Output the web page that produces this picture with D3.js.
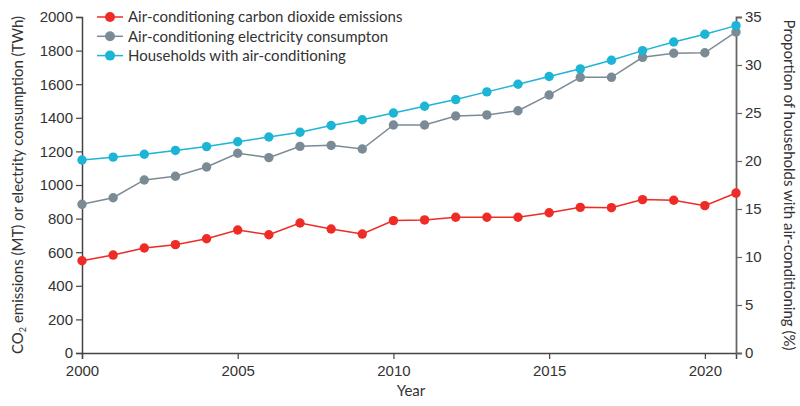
<!DOCTYPE html>
<html>
<head>
<meta charset="utf-8">
<script src="https://cdn.jsdelivr.net/npm/d3@7"></script>
<style>
  body { margin: 0; background: #fff; }
  svg { display: block; font-family: "Lato", "Open Sans", sans-serif; }
</style>
</head>
<body>
<svg id="chart" width="800" height="406"></svg>
<script>
const years = [2000,2001,2002,2003,2004,2005,2006,2007,2008,2009,2010,2011,2012,2013,2014,2015,2016,2017,2018,2019,2020,2021];
const co2Emissions = [549,583,625,645,680,732,704,774,738,708,788,792,808,808,808,835,867,865,913,909,877,952];
const electricity = [885,924,1030,1052,1107,1189,1163,1230,1236,1214,1357,1357,1411,1417,1442,1536,1641,1641,1760,1784,1787,1911];
const households = [20.1,20.4,20.7,21.1,21.5,22.0,22.5,23.0,23.7,24.3,25.0,25.7,26.4,27.2,28.0,28.8,29.6,30.5,31.5,32.4,33.2,34.1];
const xTicks = [2000,2005,2010,2015,2020];
const leftTicks = [0,200,400,600,800,1000,1200,1400,1600,1800,2000];
const rightTicks = [0,5,10,15,20,25,30,35];
const seriesNames = ["Air-conditioning carbon dioxide emissions","Air-conditioning electricity consumpton","Households with air-conditioning"];
const colors = ["#ee2b25","#7b8b95","#1db5d5"];

const svg = d3.select("#chart");
const mLeft = 82, mRight = 736, mTop = 17, mBottom = 353;
const fs = 15;

const x = d3.scaleLinear().domain([2000,2021]).range([mLeft,mRight]);
const yL = d3.scaleLinear().domain([0,2000]).range([mBottom,mTop]);
const yR = d3.scaleLinear().domain([0,35]).range([mBottom,mTop]);

const textColor = "#333";
// X axis
const xAxis = svg.append("g").attr("transform",`translate(0,${mBottom})`)
  .call(d3.axisBottom(x).tickValues(xTicks).tickFormat(d3.format("d")).tickSizeOuter(0).tickSize(6));
xAxis.select(".domain").attr("stroke","#444").attr("stroke-width",1.5);
xAxis.selectAll(".tick line").attr("stroke","#444").attr("stroke-width",1.2);
xAxis.selectAll("text").attr("font-size",fs).attr("fill",textColor).attr("dy","0.9em");

// left axis
const yAxisL = svg.append("g").attr("transform",`translate(${mLeft},0)`)
  .call(d3.axisLeft(yL).tickValues(leftTicks).tickFormat(d3.format("d")).tickSizeOuter(0).tickSize(6));
yAxisL.select(".domain").attr("stroke","#444").attr("stroke-width",1.5);
yAxisL.selectAll(".tick line").attr("stroke","#444").attr("stroke-width",1.2);
yAxisL.selectAll("text").attr("font-size",fs).attr("fill",textColor).attr("x",-9);

// right axis
const yAxisR = svg.append("g").attr("transform",`translate(${mRight},0)`)
  .call(d3.axisRight(yR).tickValues(rightTicks).tickFormat(d3.format("d")).tickSizeOuter(0).tickSize(6));
yAxisR.select(".domain").attr("stroke","#666").attr("stroke-width",1.8);
yAxisR.selectAll(".tick line").attr("stroke","#666").attr("stroke-width",1.2);
yAxisR.selectAll("text").attr("font-size",fs).attr("fill",textColor).attr("x",9);

// axis titles
svg.append("text").attr("x", 411).attr("y", 396).attr("text-anchor","middle")
  .attr("font-size",fs).attr("fill",textColor).text("Year");

const lt = svg.append("text").attr("transform",`translate(23,185) rotate(-90)`).attr("text-anchor","middle")
  .attr("font-size",fs).attr("fill",textColor);
lt.append("tspan").text("CO");
lt.append("tspan").attr("font-size",9).attr("dy",3).text("2");
lt.append("tspan").attr("dy",-3).text(" emissions (MT) or electrity consumption (TWh)");

svg.append("text").attr("transform",`translate(784,185) rotate(90)`).attr("text-anchor","middle")
  .attr("font-size",fs).attr("fill",textColor).text("Proportion of households with air-conditioning (%)");

// series
const series = [
  {vals: co2Emissions, scale: yL, color: colors[0]},
  {vals: electricity, scale: yL, color: colors[1]},
  {vals: households, scale: yR, color: colors[2]}
];
series.forEach(s => {
  const line = d3.line().x((d,i)=>x(years[i])).y(d=>s.scale(d));
  svg.append("path").datum(s.vals).attr("d",line).attr("fill","none")
    .attr("stroke",s.color).attr("stroke-width",1.5);
});
series.forEach(s => {
  svg.append("g").selectAll("circle").data(s.vals).join("circle")
    .attr("cx",(d,i)=>x(years[i])).attr("cy",d=>s.scale(d)).attr("r",4.7).attr("fill",s.color);
});

// legend
const lg = svg.append("g");
seriesNames.forEach((name,i)=>{
  const yy = 17 + i*19.3;
  lg.append("line").attr("x1",97).attr("x2",123).attr("y1",yy).attr("y2",yy)
    .attr("stroke",colors[i]).attr("stroke-width",1.5);
  lg.append("circle").attr("cx",110).attr("cy",yy).attr("r",5).attr("fill",colors[i]);
  lg.append("text").attr("x",128).attr("y",yy).attr("dy","0.35em").attr("font-size",fs)
    .attr("fill",textColor).text(name);
});
</script>
</body>
</html>
